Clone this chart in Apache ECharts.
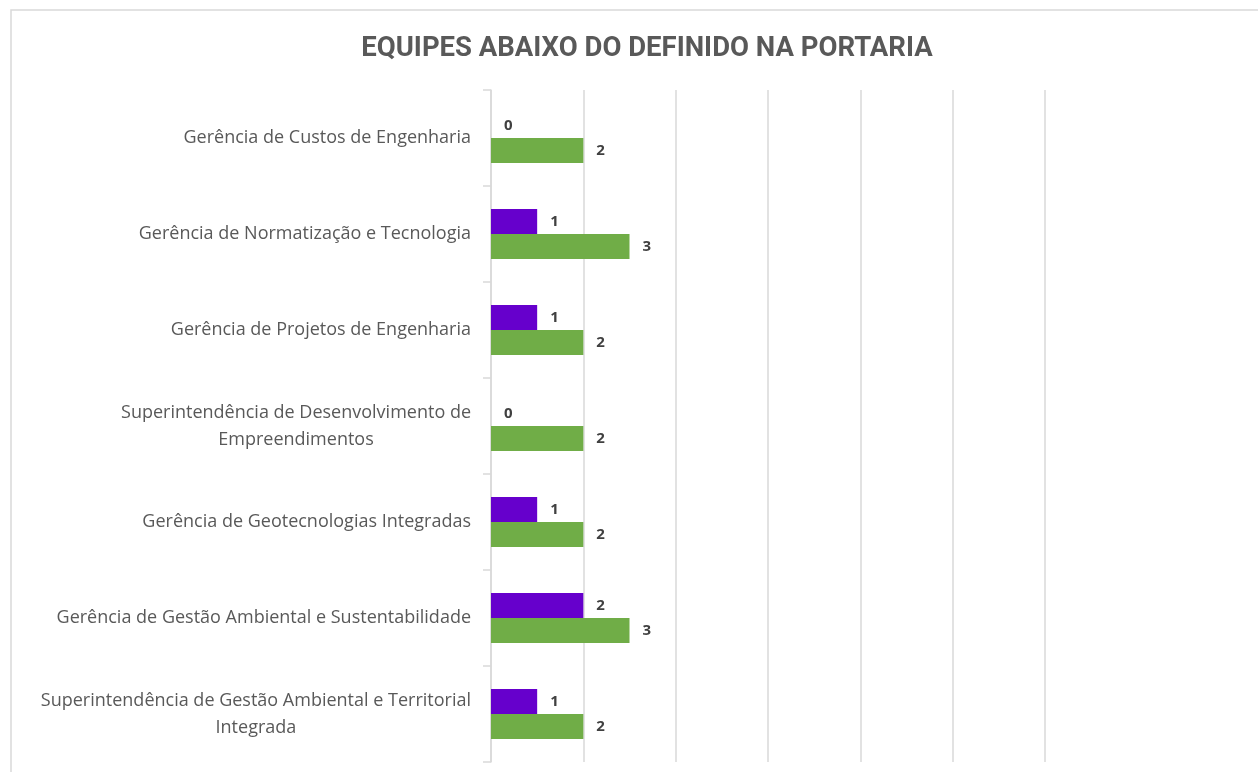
<!DOCTYPE html>
<html>
<head>
<meta charset="utf-8">
<title>Equipes abaixo do definido na portaria</title>
<script src="https://cdn.jsdelivr.net/npm/echarts@6/dist/echarts.min.js"></script>
<style>
  html, body { margin: 0; padding: 0; background: #fff; }
  #chart { width: 1258px; height: 772px; }
</style>
</head>
<body>
<div id="chart"></div>
<script>
// Data (top to bottom as in the chart)
const categories = [
  'Gerência de Custos de Engenharia',
  'Gerência de Normatização e Tecnologia',
  'Gerência de Projetos de Engenharia',
  'Superintendência de Desenvolvimento de Empreendimentos',
  'Gerência de Geotecnologias Integradas',
  'Gerência de Gestão Ambiental e Sustentabilidade',
  'Superintendência de Gestão Ambiental e Territorial Integrada'
]
const abaixo = [0, 1, 1, 0, 1, 2, 1]     // purple
const portaria = [2, 3, 2, 2, 2, 3, 2]   // green

// wrap long category names into centred lines
const wrapLabel = (name) => {
  const words = name.split(' ')
  const lines = []
  let cur = ''
  words.forEach(w => {
    const next = cur ? cur + ' ' + w : w
    if (next.length > 51 && cur) {
      lines.push(cur)
      cur = w
    } else {
      cur = next
    }
  })
  lines.push(cur)
  return lines.map(l => '{c|' + l + '}').join('\n')
}

const chart = echarts.init(document.getElementById('chart'))

const barLabel = {
  show: true,
  position: 'right',
  distance: 13,
  color: '#404040',
  fontWeight: 'bold',
  fontSize: 15,
  fontFamily: 'Open Sans'
}

chart.setOption({
  animation: false,
  backgroundColor: '#fff',
  graphic: [{
    type: 'rect',
    shape: { x: 11, y: 10, width: 1300, height: 800 },
    style: { fill: 'none', stroke: '#d9d9d9', lineWidth: 1.5 },
    silent: true
  }],
  title: {
    text: 'EQUIPES ABAIXO DO DEFINIDO NA PORTARIA',
    left: 642,
    top: 30,
    textAlign: 'center',
    textStyle: {
      fontFamily: 'Roboto',
      fontSize: 27.5,
      fontWeight: 'bold',
      color: '#595959'
    }
  },
  grid: {
    left: 491,
    right: 213,
    top: 90,
    bottom: 10
  },
  xAxis: {
    type: 'value',
    min: 0,
    max: 12,
    interval: 2,
    axisLabel: { show: false },
    axisLine: { show: false },
    axisTick: { show: false },
    splitLine: { lineStyle: { color: '#d9d9d9', width: 1.5 } }
  },
  yAxis: {
    type: 'category',
    inverse: true,
    data: categories,
    axisLine: { show: true, lineStyle: { color: '#d9d9d9', width: 1.5 } },
    axisTick: { show: true, length: 8, lineStyle: { color: '#d9d9d9', width: 1.5 } },
    axisLabel: {
      margin: 20,
      formatter: wrapLabel,
      rich: {
        c: {
          align: 'center',
          fontFamily: 'Open Sans',
          fontSize: 18,
          lineHeight: 27,
          color: '#595959'
        }
      }
    }
  },
  series: [
    {
      name: 'Abaixo',
      type: 'bar',
      data: abaixo,
      barWidth: 25,
      barGap: '0%',
      itemStyle: { color: '#6600cc' },
      label: barLabel
    },
    {
      name: 'Portaria',
      type: 'bar',
      data: portaria,
      barWidth: 25,
      barGap: '0%',
      itemStyle: { color: '#70ad47' },
      label: barLabel
    }
  ]
})

window.addEventListener('resize', () => {
  chart.resize()
})
</script>
</body>
</html>
